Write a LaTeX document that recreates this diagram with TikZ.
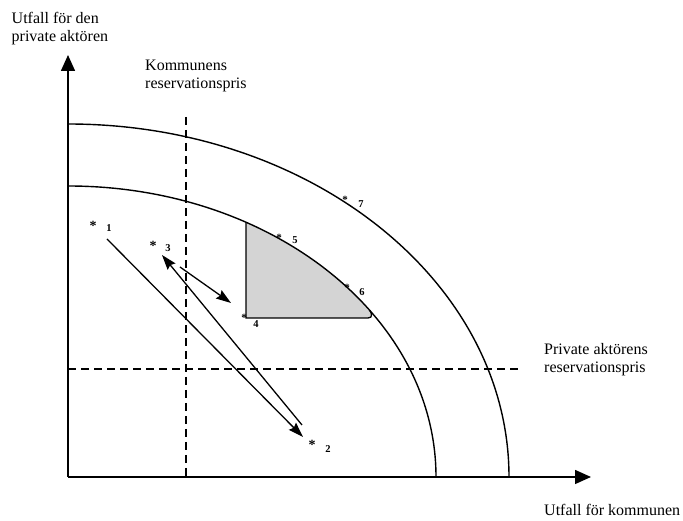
\documentclass[tikz,border=0pt]{standalone}
\usepackage{fontspec}
\setmainfont{Liberation Serif}
\usetikzlibrary{arrows.meta}
\begin{document}
\begin{tikzpicture}[x=1pt,y=1pt,
  axis/.style={line width=1.5pt,-{Triangle[length=16pt,width=14pt]}},
  curve/.style={line width=1.4pt},
  dashline/.style={line width=1.2pt,dash pattern=on 8pt off 5pt},
  movearrow/.style={line width=1.3pt,-{Stealth[length=15pt,width=10pt,inset=2pt]}},
  lbl/.style={font=\fontsize{16}{18.5}\selectfont,align=left,inner sep=0pt,anchor=north west},
  star/.style={font=\fontsize{14}{14}\selectfont\bfseries,inner sep=0pt,anchor=north},
  curvemark/.style={font=\fontsize{11}{11}\selectfont\bfseries,inner sep=0pt,anchor=north},
  num/.style={font=\fontsize{10.5}{10.5}\selectfont\bfseries,inner sep=0pt}]
\useasboundingbox (0,0) rectangle (683,521);

% shaded negotiation region
\fill[black!17] (246,203) -- (246,298.7)
  arc[start angle=61.07,end angle=35,x radius=368pt,y radius=291pt]
  .. controls (372,208) and (373,203) .. (368,203) -- cycle;
\draw[line width=1.3pt] (246,298.7) -- (246,203) -- (368,203)
  .. controls (373,203) and (372,208) .. (369.4,210.9);

% coordinates
\coordinate (O) at (68,44);
\coordinate (ytip) at (68,466);
\coordinate (xtip) at (591,44);
\coordinate (vtop) at (186,404);
\coordinate (vbot) at (186,44);
\coordinate (hl) at (68,152);
\coordinate (hr) at (520,152);

% reservation prices
\draw[dashline] (vtop) -- (vbot);
\draw[dashline] (hl) -- (hr);

% frontier curves
\draw[curve] (436,44) arc[start angle=0,end angle=90,x radius=368pt,y radius=291pt];
\draw[curve] (509,44) arc[start angle=0,end angle=90,x radius=441pt,y radius=353pt];

% axes
\draw[axis] (O) -- (ytip);
\draw[axis] (O) -- (xtip);

% texts
\node[lbl] (ylab) at (11.5,509.2) {Utfall för den\\private aktören};
\node[lbl] (kom) at (145,461.6) {Kommunens\\reservationspris};
\node[lbl] (priv) at (544,177.9) {Private aktörens\\reservationspris};
\node[lbl] (xlab) at (544,17) {Utfall för kommunen};

% points
\node[star] (s1) at (93,300) {*};
\node[star] (s3) at (153,280) {*};
\node[star] (s2) at (312,81) {*};
\node[curvemark] (s4) at (244,206.5) {*};
\node[curvemark] (s5) at (279,286.5) {*};
\node[curvemark] (s6) at (347,236.5) {*};
\node[curvemark] (s7) at (345,324.5) {*};

\node[num] (n1) at (109,293) {1};
\node[num] (n3) at (168,273) {3};
\node[num] (n2) at (328,72) {2};
\node[num] (n4) at (256,197) {4};
\node[num] (n5) at (295,281) {5};
\node[num] (n6) at (362,229) {6};
\node[num] (n7) at (361,317) {7};

% moves
\coordinate (a1s) at (107,282);
\coordinate (a1e) at (303,84);
\coordinate (a2s) at (302,96);
\coordinate (a2e) at (162,266);
\coordinate (a3s) at (180,254);
\coordinate (a3e) at (231,218);
\draw[movearrow] (a1s) -- (a1e);
\draw[movearrow] (a2s) -- (a2e);
\draw[movearrow] (a3s) -- (a3e);
\end{tikzpicture}
\end{document}
